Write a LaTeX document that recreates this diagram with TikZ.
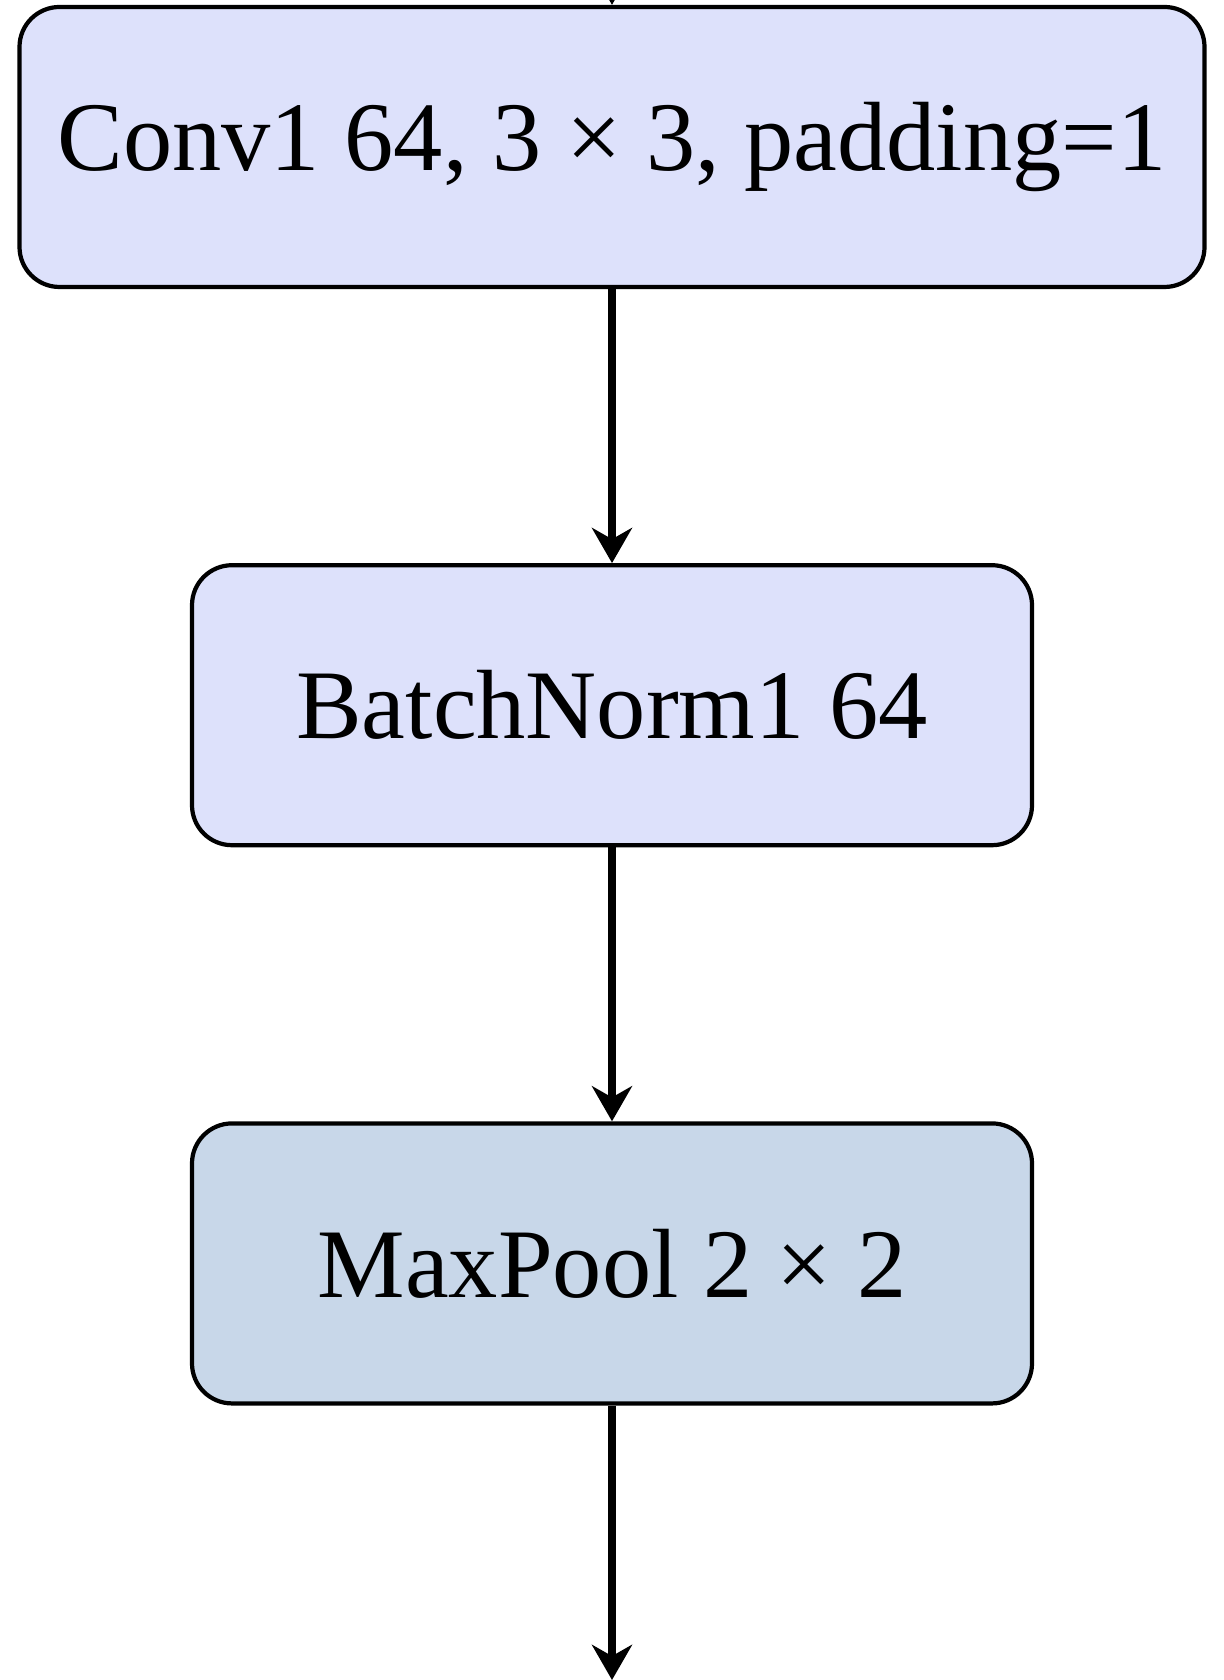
\documentclass[tikz,border=0pt]{standalone}
\usepackage{fontspec}
\setmainfont{Liberation Serif}
\usetikzlibrary{arrows.meta, positioning}
\definecolor{convblue}{RGB}{221,225,251}
\definecolor{poolblue}{RGB}{200,215,233}

\begin{document}
\begin{tikzpicture}[
  layer/.style={draw=black, semithick, rounded corners=0.2cm, minimum height=1.4cm, inner sep=0pt, font=\fontsize{14}{17}\selectfont},
  flow/.style={-{Stealth[length=5pt,width=5.7pt,inset=1.6pt]}, line width=1pt}
]
\useasboundingbox (0,0) rectangle (6.12,8.4);
\node[layer, fill=convblue, minimum width=5.925cm] (conv) at (3.06,7.665) {Conv1 64, 3 × 3, padding=1};
\node[layer, fill=convblue, minimum width=4.2cm, below=1.37cm of conv] (bn) {BatchNorm1 64};
\node[layer, fill=poolblue, minimum width=4.2cm, below=1.37cm of bn] (pool) {MaxPool 2 × 2};
\coordinate (in) at (3.06,9.0);
\coordinate (out) at (3.06,0);
\draw[flow] (in) -- (conv);
\draw[flow] (conv) -- (bn);
\draw[flow] (bn) -- (pool);
\draw[flow] (pool) -- (out);
\end{tikzpicture}
\end{document}
